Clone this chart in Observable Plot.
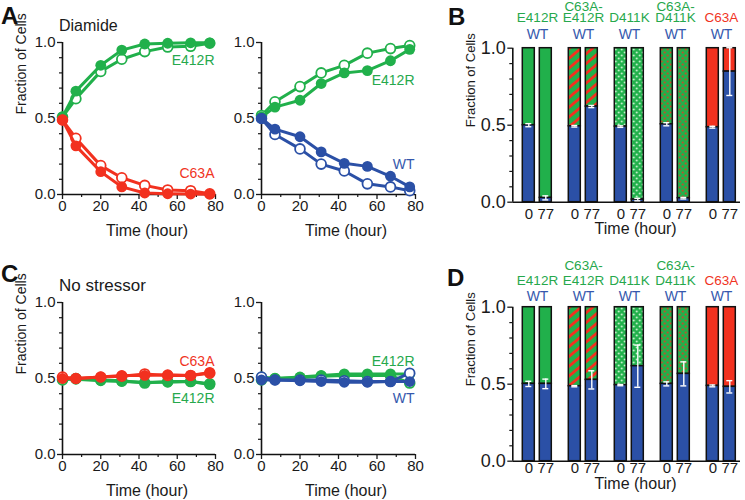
<!DOCTYPE html>
<html><head><meta charset="utf-8">
<script src="https://cdn.jsdelivr.net/npm/d3@7"></script>
<script src="https://cdn.jsdelivr.net/npm/@observablehq/plot@0.6"></script>
<style>
body{margin:0;background:#fff;font-family:"Liberation Sans",Arial,Helvetica,sans-serif;}
#fig{position:relative;width:745px;height:500px;overflow:hidden;background:#fff;}
#fig > svg, #fig > div {position:absolute;}
.letter{font-weight:bold;font-size:24px;line-height:24px;color:#111;}
.cond{line-height:16px;color:#1a1a1a;}
</style></head><body>
<svg width="0" height="0" style="position:absolute">
<defs>
<pattern id="stripes" patternUnits="userSpaceOnUse" width="7.5" height="7.5" patternTransform="rotate(-40)">
<rect width="7.5" height="7.5" fill="#21b04b"/>
<rect width="7.5" height="2.8" fill="#f2311f"/>
</pattern>
<pattern id="wdots" patternUnits="userSpaceOnUse" width="6" height="6">
<rect width="6" height="6" fill="#21b04b"/>
<circle cx="1.5" cy="1.5" r="0.9" fill="#e8ffe8"/>
<circle cx="4.5" cy="4.5" r="0.9" fill="#e8ffe8"/>
</pattern>
<pattern id="rdots" patternUnits="userSpaceOnUse" width="6" height="6">
<rect width="6" height="6" fill="#21b04b"/>
<circle cx="1.5" cy="1.5" r="0.9" fill="#f2311f"/>
<circle cx="4.5" cy="4.5" r="0.9" fill="#f2311f"/>
</pattern>
</defs>
</svg>
<div id="fig"></div>
<script>
// ---------- data ----------
const times = [0, 7, 20, 31, 43, 55, 67, 77];

// Panel A left: Diamide, E412R vs C63A (filled / open = two replicates)
const diaE412RvC63A_E412R_filled = [0.51, 0.68, 0.85, 0.95, 0.99, 0.995, 0.998, 0.998];
const diaE412RvC63A_E412R_open   = [0.51, 0.63, 0.81, 0.89, 0.94, 0.97, 0.975, 0.995];
const diaE412RvC63A_C63A_filled  = [0.49, 0.32, 0.15, 0.05, 0.01, 0.005, 0.003, 0.002];
const diaE412RvC63A_C63A_open    = [0.49, 0.37, 0.19, 0.11, 0.06, 0.03, 0.025, 0.005];

// Panel A right: Diamide, E412R vs WT
const diaE412RvWT_E412R_open   = [0.52, 0.61, 0.71, 0.80, 0.85, 0.93, 0.96, 0.98];
const diaE412RvWT_E412R_filled = [0.51, 0.575, 0.62, 0.73, 0.80, 0.815, 0.88, 0.955];
const diaE412RvWT_WT_open      = [0.50, 0.395, 0.30, 0.20, 0.155, 0.07, 0.05, 0.025];
const diaE412RvWT_WT_filled    = [0.50, 0.43, 0.38, 0.28, 0.205, 0.185, 0.12, 0.05];

// Panel C left: no stressor, E412R vs C63A
const noE412RvC63A_E412R_open   = [0.49, 0.50, 0.49, 0.485, 0.47, 0.48, 0.48, 0.465];
const noE412RvC63A_E412R_filled = [0.50, 0.495, 0.485, 0.48, 0.475, 0.475, 0.48, 0.46];
const noE412RvC63A_C63A_open    = [0.51, 0.50, 0.51, 0.515, 0.53, 0.52, 0.52, 0.535];
const noE412RvC63A_C63A_filled  = [0.50, 0.50, 0.51, 0.52, 0.52, 0.525, 0.52, 0.54];

// Panel C right: no stressor, E412R vs WT
const noE412RvWT_E412R_open   = [0.49, 0.50, 0.505, 0.515, 0.52, 0.52, 0.52, 0.47];
const noE412RvWT_E412R_filled = [0.51, 0.50, 0.51, 0.52, 0.53, 0.53, 0.53, 0.53];
const noE412RvWT_WT_open      = [0.51, 0.49, 0.49, 0.49, 0.485, 0.48, 0.48, 0.535];
const noE412RvWT_WT_filled    = [0.49, 0.49, 0.485, 0.48, 0.475, 0.475, 0.48, 0.48];

// series name labels [text, y] at x = labelX
const labelTextsAL = ["E412R", "C63A"], labelYsAL = [0.88, 0.14];
const labelTextsAR = ["E412R", "WT"],   labelYsAR = [0.75, 0.20];
const labelTextsCL = ["C63A", "E412R"], labelYsCL = [0.61, 0.37];
const labelTextsCR = ["E412R", "WT"],   labelYsCR = [0.61, 0.37];
const labelX = 80;

// Bar panels
const groups = ["E412R", "C63A-E412R", "D411K", "C63A-D411K", "C63A"];
const groupLine1 = ["", "C63A-", "", "C63A-", ""];
const groupLine2 = ["E412R", "E412R", "D411K", "D411K", "C63A"];
const groupLine3 = ["WT", "WT", "WT", "WT", "WT"];
const barTimes = ["0", "77"];
// WT fraction (blue) and SEM, order: group x time
const diamideWT    = [0.500, 0.028, 0.493, 0.621, 0.491, 0.017, 0.506, 0.026, 0.487, 0.848];
const diamideErr   = [0.010, 0.013, 0.005, 0.007, 0.005, 0.008, 0.010, 0.005, 0.006, 0.155];
const noStressWT   = [0.502, 0.502, 0.487, 0.528, 0.494, 0.617, 0.502, 0.567, 0.489, 0.483];
const noStressErr  = [0.017, 0.031, 0.004, 0.059, 0.004, 0.137, 0.013, 0.078, 0.006, 0.040];

const yMajor = [0, 0.5, 1];
const yMinor = [0.1, 0.2, 0.3, 0.4, 0.6, 0.7, 0.8, 0.9];
const xMajor = [0, 20, 40, 60, 80];
const xMinor = [10, 30, 50, 70];

// ---------- styles ----------
const GREEN = "#21b04b", RED = "#f2311f", BLUE = "#2b50a6";
const TXT_GREEN = "#26a84c", TXT_RED = "#f0351f", TXT_BLUE = "#3558ad";
const FONT = "'Liberation Sans', Arial, Helvetica, sans-serif";
const groupFills = [GREEN, "url(#stripes)", "url(#wdots)", "url(#rdots)", RED];
const groupTextColors = [TXT_GREEN, TXT_GREEN, TXT_GREEN, TXT_GREEN, TXT_RED];
const colorOf = {E412R: TXT_GREEN, C63A: TXT_RED, WT: TXT_BLUE};
const baseStyle = {background: "transparent", overflow: "visible", fontFamily: FONT, color: "#1a1a1a"};

const fig = document.getElementById("fig");
function place(el, left, top) { el.style.left = left + "px"; el.style.top = top + "px"; fig.appendChild(el); }

function series(values) { return times.map((t, i) => ({t, v: values[i]})); }

function linePanel({left, top, width, marginLeft, list, labelTexts, labelYs, yTitle, titleDx}) {
  const marks = [
    Plot.axisY({ticks: yMinor, tickSize: 3, fill: "none", label: null, strokeWidth: 1.2}),
    Plot.axisY({ticks: yMajor, tickSize: 5, tickPadding: 2, tickFormat: d3.format(".1f"), fontSize: 15, label: null, strokeWidth: 1.3}),
    Plot.axisX({ticks: xMinor, tickSize: 3, fill: "none", label: null, strokeWidth: 1.2}),
    Plot.axisX({ticks: xMajor, tickSize: 5, tickPadding: 1, fontSize: 15, label: null, strokeWidth: 1.3}),
    Plot.ruleX([0], {stroke: "#111", strokeWidth: 1.6}),
    Plot.ruleY([0], {stroke: "#111", strokeWidth: 1.6}),
    Plot.text(["Time (hour)"], {text: d => d, frameAnchor: "bottom", dx: titleDx, dy: 36, fontSize: 16, lineAnchor: "middle"})
  ];
  if (yTitle) marks.push(Plot.text(["Fraction of Cells"], {text: d => d, frameAnchor: "left", rotate: -90, dx: -41, dy: -4, fontSize: 14, lineAnchor: "middle"}));
  for (const s of list) {
    const data = series(s.values);
    marks.push(Plot.line(data, {x: "t", y: "v", stroke: s.color, strokeWidth: 3}));
    if (s.open) marks.push(Plot.dot(data, {x: "t", y: "v", r: 4.9, fill: "white", stroke: s.color, strokeWidth: 1.8}));
    else marks.push(Plot.dot(data, {x: "t", y: "v", r: 5.4, fill: s.color}));
  }
  const lab = labelTexts.map((t, i) => ({t, y: labelYs[i]}));
  marks.push(Plot.text(lab, {x: () => labelX, y: "y", text: "t", fill: d => colorOf[d.t], textAnchor: "end", dx: -1, fontSize: 14, lineAnchor: "middle"}));
  const p = Plot.plot({
    width, height: 250, marginLeft, marginRight: 25, marginTop: 42, marginBottom: 56,
    x: {domain: [0, 80]}, y: {domain: [0, 1]},
    color: {type: "identity"},
    style: baseStyle, marks
  });
  place(p, left, top);
}

function barPanel({top, wt, err, mutDy, mutLineHeight, wtDy, xPad, timeDy}) {
  const rows = [];
  groups.forEach((g, gi) => barTimes.forEach((bt, ti) => {
    const i = gi * 2 + ti;
    rows.push({group: g, time: bt, wt: wt[i], err: err[i], topFill: groupFills[gi]});
  }));
  const labs = groups.map((g, i) => ({
    group: g,
    mut: groupLine1[i] ? groupLine1[i] + "\n" + groupLine2[i] : groupLine2[i],
    wt: groupLine3[i], c: groupTextColors[i]
  }));
  // axis overlay
  const ax = Plot.plot({
    width: 295, height: 250, marginLeft: 62.3, marginRight: 5, marginTop: 47.7, marginBottom: 48.3,
    x: {domain: [0, 1], axis: null}, y: {domain: [0, 1]},
    style: baseStyle,
    marks: [
      Plot.axisY({ticks: yMinor, tickSize: 3, fill: "none", label: null, strokeWidth: 1.2}),
      Plot.axisY({ticks: yMajor, tickSize: 5, tickPadding: 2, tickFormat: d3.format(".1f"), fontSize: 18, label: null, strokeWidth: 1.3}),
      Plot.ruleX([0], {stroke: "#111", strokeWidth: 1.6}),
      Plot.ruleY([0], {stroke: "#111", strokeWidth: 1.6}),
      Plot.text(["Fraction of Cells"], {text: d => d, frameAnchor: "left", rotate: -90, dx: -42, dy: 2, fontSize: 13, lineAnchor: "middle"}),
      Plot.text(["Time (hour)"], {text: d => d, frameAnchor: "bottom", dx: 9, dy: timeDy, fontSize: 16, lineAnchor: "middle"})
    ]
  });
  place(ax, 450, top);
  const bars = Plot.plot({
    width: 295, height: 250, marginLeft: 71.7, marginRight: 8.3, marginTop: 47.7, marginBottom: 48.3,
    fx: {domain: groups, paddingInner: 0.351, paddingOuter: 0, axis: null, label: null},
    x: {domain: barTimes, paddingInner: 0.3, paddingOuter: 0},
    y: {domain: [0, 1], axis: null},
    color: {type: "identity"},
    style: baseStyle,
    marks: [
      Plot.barY(rows, {fx: "group", x: "time", y1: "wt", y2: () => 1, fill: "topFill", stroke: "#111", strokeWidth: 1.5}),
      Plot.barY(rows, {fx: "group", x: "time", y1: () => 0, y2: "wt", fill: BLUE, stroke: "#111", strokeWidth: 1.5}),
      Plot.ruleX(rows, {fx: "group", x: "time", y1: d => d.wt - d.err, y2: d => Math.min(1, d.wt + d.err), stroke: "white", strokeWidth: 1.4}),
      Plot.tickY(rows, {fx: "group", x: "time", y: d => d.wt + d.err, stroke: "white", strokeWidth: 1.4, insetLeft: 3, insetRight: 3}),
      Plot.tickY(rows, {fx: "group", x: "time", y: d => d.wt - d.err, stroke: "white", strokeWidth: 1.4, insetLeft: 3, insetRight: 3}),
      Plot.axisX({tickSize: 0, tickPadding: xPad, fontSize: 15, label: null}),
      Plot.text(labs, {fx: "group", frameAnchor: "top", text: "mut", fill: "c", dy: mutDy, fontSize: 13.5, lineAnchor: "bottom", lineHeight: mutLineHeight}),
      Plot.text(labs, {fx: "group", frameAnchor: "top", text: "wt", fill: TXT_BLUE, dy: wtDy, fontSize: 14, lineAnchor: "middle"})
    ]
  });
  place(bars, 450, top);
}

linePanel({left: 0, top: 0, width: 240, marginLeft: 62, titleDx: 8, yTitle: true,
  labelTexts: labelTextsAL, labelYs: labelYsAL,
  list: [
    {values: diaE412RvC63A_E412R_open, color: GREEN, open: true},
    {values: diaE412RvC63A_E412R_filled, color: GREEN},
    {values: diaE412RvC63A_C63A_open, color: RED, open: true},
    {values: diaE412RvC63A_C63A_filled, color: RED}
  ]});
linePanel({left: 220, top: 0, width: 220, marginLeft: 41, titleDx: 7.5, yTitle: false,
  labelTexts: labelTextsAR, labelYs: labelYsAR,
  list: [
    {values: diaE412RvWT_E412R_open, color: GREEN, open: true},
    {values: diaE412RvWT_E412R_filled, color: GREEN},
    {values: diaE412RvWT_WT_open, color: BLUE, open: true},
    {values: diaE412RvWT_WT_filled, color: BLUE}
  ]});
linePanel({left: 0, top: 260, width: 240, marginLeft: 62, titleDx: 8, yTitle: true,
  labelTexts: labelTextsCL, labelYs: labelYsCL,
  list: [
    {values: noE412RvC63A_E412R_open, color: GREEN, open: true},
    {values: noE412RvC63A_E412R_filled, color: GREEN},
    {values: noE412RvC63A_C63A_open, color: RED, open: true},
    {values: noE412RvC63A_C63A_filled, color: RED}
  ]});
linePanel({left: 220, top: 260, width: 220, marginLeft: 41, titleDx: 7.5, yTitle: false,
  labelTexts: labelTextsCR, labelYs: labelYsCR,
  list: [
    {values: noE412RvWT_E412R_open, color: GREEN, open: true},
    {values: noE412RvWT_E412R_filled, color: GREEN},
    {values: noE412RvWT_WT_open, color: BLUE, open: true},
    {values: noE412RvWT_WT_filled, color: BLUE}
  ]});

barPanel({top: 0, wt: diamideWT, err: diamideErr, mutDy: -26, mutLineHeight: 0.8, wtDy: -14, xPad: 6, timeDy: 27});
barPanel({top: 259, wt: noStressWT, err: noStressErr, mutDy: -22.5, mutLineHeight: 1.1, wtDy: -10.5, xPad: 1, timeDy: 23});

// panel letters and condition titles
function addText(txt, cls, left, top, size) {
  const d = document.createElement("div");
  d.className = cls; d.textContent = txt;
  if (size) d.style.fontSize = size + "px";
  place(d, left, top);
}
addText("A", "letter", 1, 4);
addText("B", "letter", 448, 5);
addText("C", "letter", 1, 262);
addText("D", "letter", 447, 266);
addText("Diamide", "cond", 59, 18, 16);
addText("No stressor", "cond", 59, 277.5, 17);
</script>
</body></html>
